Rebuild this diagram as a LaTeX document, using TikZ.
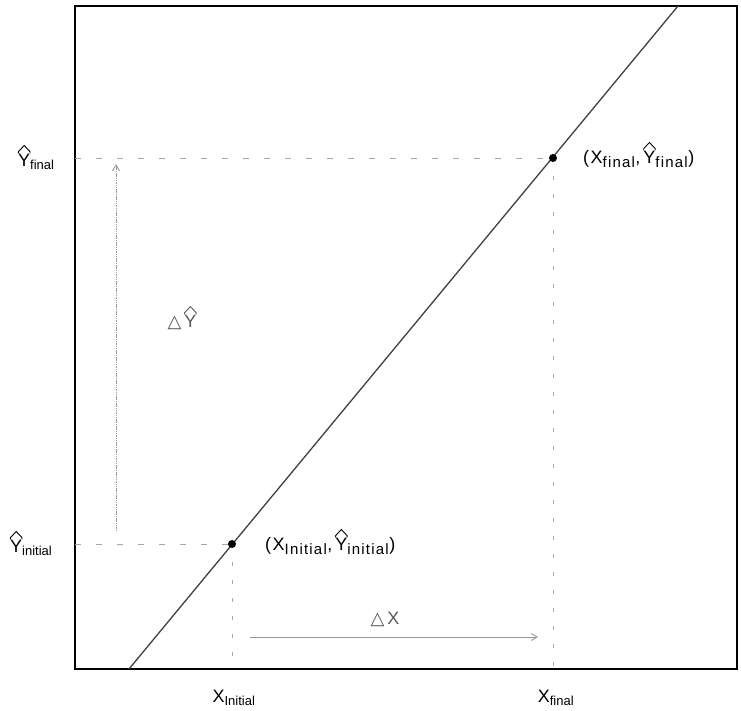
\documentclass[tikz,border=0pt]{standalone}
\usepackage{fontspec}
\usepackage{pict2e}
\setmainfont{Liberation Sans}
\newfontfamily\symfont{DejaVu Sans}
\usetikzlibrary{arrows.meta}
\tikzset{
  lbl/.style={font=\fontsize{18}{20}\selectfont, inner sep=0pt},
  ptlbl/.style={font=\fontsize{18}{20}\selectfont\addfontfeature{LetterSpace=8}, inner sep=0pt},
  hguide/.style={draw=gray!70, line width=0.8pt, dash pattern=on 6pt off 15pt},
  vguide/.style={draw=gray!70, line width=0.8pt, dash pattern=on 4pt off 14pt},
  dot/.style={circle, fill=black, inner sep=0pt, minimum size=8pt},
  frame/.style={draw=black, line width=1.4pt},
  regline/.style={draw=gray!50!black, line width=1.3pt},
  deltaarrow/.style={draw=gray!80, line width=0.9pt, -{Straight Barb[length=6pt,width=7pt]}},
}
\newcommand{\sbx}[1]{\textsubscript{\fontsize{13}{14}\selectfont #1}}
\newcommand{\sbp}[1]{\textsubscript{\fontsize{15}{16}\selectfont #1}}
\newcommand{\hatY}{\leavevmode\ooalign{Y\cr\hidewidth\raisebox{0.70em}{\setlength{\unitlength}{0.01em}\linethickness{0.05em}\begin{picture}(64,44)\polyline(0,0)(0,10)(32,44)(64,10)(64,0)\end{picture}}\hidewidth\cr}}
\begin{document}
\begin{tikzpicture}[x=1pt,y=-1pt]
\useasboundingbox (0,0) rectangle (741,710);
% frame
\coordinate (tl) at (75,6);
\coordinate (br) at (737,669);
\draw[frame] (tl) rectangle (br);
% key points
\coordinate (pi) at (232,544);
\coordinate (pf) at (553,158);
\coordinate (lb) at (129,669);
\coordinate (lt) at (678,6);
\coordinate (yfl) at (75,158);
\coordinate (yil) at (75,544);
\coordinate (xib) at (232,669);
\coordinate (xfb) at (553,669);
% guides
\draw[hguide] (yfl) -- (pf);
\draw[hguide] (yil) -- (pi);
\draw[vguide] (pi) -- (xib);
\draw[vguide] (pf) -- (xfb);
% regression line
\draw[regline] (lb) -- (lt);
% points
\node[dot] (dpi) at (pi) {};
\node[dot] (dpf) at (pf) {};
% delta arrows
\coordinate (dys) at (116,531);
\coordinate (dye) at (116,164);
\draw[deltaarrow, dash pattern=on 1.5pt off 0.8pt] (dys) -- (dye);
\coordinate (dxs) at (250,637);
\coordinate (dxe) at (538,637);
\draw[deltaarrow] (dxs) -- (dxe);
\node[lbl, text=gray!70!black] (dylab) at (182,322) {{\symfont △}\,\hatY};
\node[lbl, text=gray!70!black] (dxlab) at (385,619) {{\symfont △}\,X};
% axis labels
\node[lbl, anchor=base west] (yfinal) at (18,166) {\hatY\sbx{final}};
\node[lbl, anchor=base west] (yinit) at (10,552) {\hatY\sbx{initial}};
\node[lbl] (xinit) at (234,698) {X\sbx{Initial}};
\node[lbl] (xfinal) at (556,698) {X\sbx{final}};
% point labels
\node[ptlbl, anchor=base west] (pflab) at (583,163) {(X\sbp{final},\,\hatY\sbp{final})};
\node[ptlbl, anchor=base west] (pilab) at (265,550) {(X\sbp{Initial},\,\hatY\sbp{initial})};
\end{tikzpicture}
\end{document}
